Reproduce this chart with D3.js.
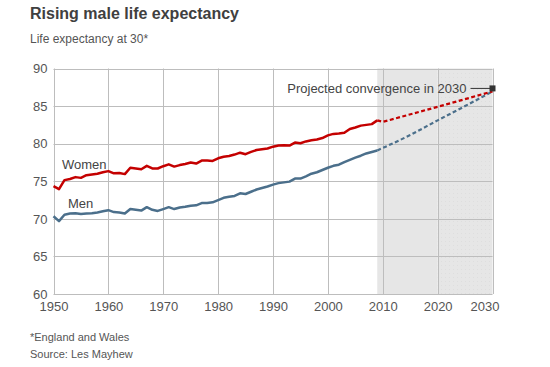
<!DOCTYPE html>
<html><head><meta charset="utf-8">
<script src="https://cdn.jsdelivr.net/npm/d3@7"></script>
<style>
html,body{margin:0;padding:0;background:#fff;}
svg{display:block;font-family:Arial,"Liberation Sans",sans-serif;}
</style></head>
<body>
<svg id="c" width="550" height="367"></svg>
<script>
const years = d3.range(1950, 2010);
const women = [74.35,73.95,75.15,75.3,75.55,75.45,75.8,75.9,76.0,76.2,
  76.35,76.05,76.1,75.95,76.8,76.7,76.6,77.05,76.7,76.7,
  77.0,77.25,76.95,77.15,77.3,77.5,77.35,77.75,77.75,77.7,
  78.05,78.25,78.35,78.55,78.8,78.6,78.9,79.15,79.25,79.35,
  79.6,79.75,79.8,79.75,80.15,80.05,80.3,80.45,80.55,80.75,
  81.1,81.3,81.35,81.45,81.95,82.15,82.4,82.5,82.6,83.1];
const men = [70.35,69.7,70.55,70.7,70.75,70.65,70.7,70.75,70.85,71.0,
  71.15,70.9,70.85,70.7,71.3,71.2,71.1,71.55,71.2,71.05,
  71.3,71.55,71.3,71.5,71.6,71.75,71.8,72.1,72.1,72.2,
  72.5,72.8,72.95,73.05,73.4,73.3,73.6,73.9,74.1,74.3,
  74.55,74.75,74.85,74.95,75.35,75.35,75.65,76.0,76.2,76.5,
  76.8,77.05,77.2,77.55,77.85,78.15,78.4,78.7,78.9,79.1];
const projYearsW = [2009, 2010, 2020, 2030];
const projWomen = [83.1, 82.9, 84.9, 86.95];
const projYearsM = [2009, 2015, 2020, 2025, 2030];
const projMen = [79.1, 81.15, 83.1, 85.0, 86.95];
const yTicks = [60, 65, 70, 75, 80, 85, 90];
const xTicks = [1950, 1960, 1970, 1980, 1990, 2000, 2010, 2020, 2030];
const convergence = {year: 2030, value: 87.35, label: "Projected convergence in 2030"};

const svg = d3.select("#c");
const x = d3.scaleLinear().domain([1950, 2030]).range([53.5, 492.5]);
const y = d3.scaleLinear().domain([60, 90]).range([294, 68.5]);

const defs = svg.append("defs");
const pat = defs.append("pattern").attr("id","dots").attr("patternUnits","userSpaceOnUse")
  .attr("width",4).attr("height",4);
pat.append("rect").attr("width",4).attr("height",4).attr("fill","#e6e6e6");
pat.append("rect").attr("x",1).attr("y",1).attr("width",1).attr("height",1).attr("fill","#dedede");

// shaded projection region
svg.append("rect").attr("x", x(2009)).attr("y", y(90))
  .attr("width", x(2020)-x(2009)).attr("height", y(60)-y(90)).attr("fill","#e6e6e6");
svg.append("rect").attr("x", x(2020)).attr("y", y(90))
  .attr("width", x(2030)-x(2020)).attr("height", y(60)-y(90)).attr("fill","url(#dots)");

// grid
const g = svg.append("g");
g.selectAll("line.h").data(yTicks).join("line")
  .attr("x1", x(1950)).attr("x2", x(2030))
  .attr("y1", d=>Math.round(y(d))+0.5).attr("y2", d=>Math.round(y(d))+0.5)
  .attr("stroke","#bdbdbd").attr("stroke-width",1);
g.selectAll("line.v").data(xTicks).join("line")
  .attr("x1", d=>Math.round(x(d))+0.5).attr("x2", d=>Math.round(x(d))+0.5)
  .attr("y1", y(90)).attr("y2", y(60))
  .attr("stroke","#bdbdbd").attr("stroke-width",1);

// axes labels via d3 axes
const yAxis = svg.append("g").attr("transform",`translate(${x(1950)},0)`)
  .call(d3.axisLeft(y).tickValues(yTicks).tickSize(0).tickPadding(6));
yAxis.select(".domain").remove();
yAxis.selectAll("text").attr("font-size",13).attr("fill","#555").attr("font-family","Arial,'Liberation Sans',sans-serif");

const xAxis = svg.append("g").attr("transform",`translate(0,${y(60)})`)
  .call(d3.axisBottom(x).tickValues(xTicks).tickFormat(d3.format("d")).tickSize(0).tickPadding(8));
xAxis.select(".domain").remove();
xAxis.selectAll("text").attr("font-size",13).attr("fill","#555").attr("font-family","Arial,'Liberation Sans',sans-serif")
  .attr("dx", d => d===2030 ? -8 : 0);

// lines
const line = d3.line().x(d=>x(d[0])).y(d=>y(d[1]));
svg.append("path").datum(years.map((yr,i)=>[yr,men[i]]))
  .attr("d", line).attr("fill","none").attr("stroke","#4b6f8b").attr("stroke-width",2.5)
  .attr("stroke-linejoin","round");
svg.append("path").datum(years.map((yr,i)=>[yr,women[i]]))
  .attr("d", line).attr("fill","none").attr("stroke","#c40000").attr("stroke-width",2.5)
  .attr("stroke-linejoin","round");
const curve = d3.line().x(d=>x(d[0])).y(d=>y(d[1])).curve(d3.curveMonotoneX);
svg.append("path").datum(projYearsM.map((yr,i)=>[yr,projMen[i]]))
  .attr("d", curve).attr("fill","none").attr("stroke","#4b6f8b").attr("stroke-width",2.2)
  .attr("stroke-dasharray","4,2.5");
svg.append("path").datum(projYearsW.map((yr,i)=>[yr,projWomen[i]]))
  .attr("d", line).attr("fill","none").attr("stroke","#c40000").attr("stroke-width",2.2)
  .attr("stroke-dasharray","4,2.5");

// convergence marker & label
const cx = x(convergence.year), cy = y(convergence.value);
svg.append("line").attr("x1", cx-22).attr("x2", cx).attr("y1", cy).attr("y2", cy)
  .attr("stroke","#333").attr("stroke-width",1);
svg.append("rect").attr("x", cx-3).attr("y", cy-3).attr("width",6).attr("height",6).attr("fill","#333");
svg.append("text").attr("x", cx-26).attr("y", cy+4.5).attr("text-anchor","end")
  .attr("font-size",13).attr("fill","#444").text(convergence.label);

// series labels
svg.append("text").attr("x",62).attr("y",169).attr("font-size",13).attr("fill","#444").text("Women");
svg.append("text").attr("x",68).attr("y",208).attr("font-size",13).attr("fill","#444").text("Men");

// titles
svg.append("text").attr("x",30).attr("y",19).attr("font-size",16).attr("font-weight","bold")
  .attr("fill","#404040").text("Rising male life expectancy");
svg.append("text").attr("x",30).attr("y",43).attr("font-size",12).attr("fill","#555").text("Life expectancy at 30*");
svg.append("text").attr("x",30).attr("y",341).attr("font-size",11).attr("fill","#555").text("*England and Wales");
svg.append("text").attr("x",30).attr("y",358).attr("font-size",11).attr("fill","#555").text("Source: Les Mayhew");
</script>
</body></html>
